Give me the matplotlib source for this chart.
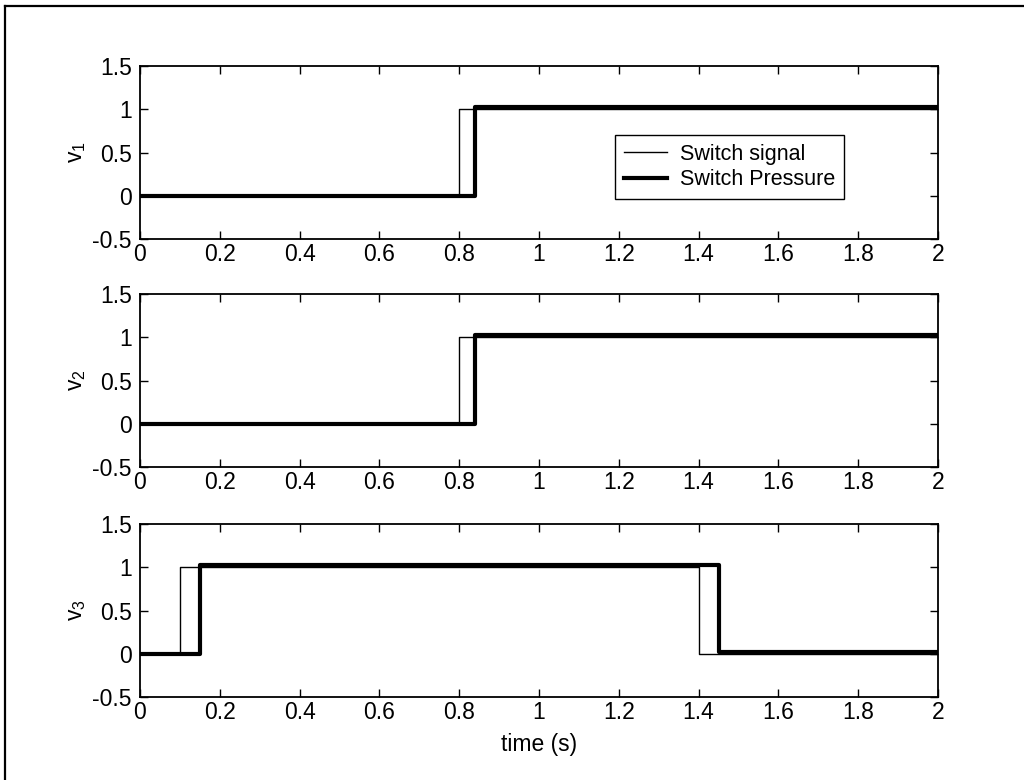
import numpy as np
import matplotlib
matplotlib.use("Agg")
import matplotlib.pyplot as plt
from matplotlib.lines import Line2D

plt.rcParams['font.family'] = ['Liberation Sans', 'DejaVu Sans']

# switching instants (s) for the three valves: command signal and measured pressure
t_end = 2.0
signal_on = [0.80, 0.80, 0.10]
signal_off = [None, None, 1.40]
pressure_on = [0.84, 0.84, 0.15]
pressure_off = [None, None, 1.45]
pressure_high = 1.03
pressure_low = 0.02
y_names = ['v$\\mathregular{_1}$', 'v$\\mathregular{_2}$', 'v$\\mathregular{_3}$']


def step_trace(t_on, t_off, high, low_after):
    t = [0.0, t_on, t_on]
    y = [0.0, 0.0, high]
    if t_off is None:
        t.append(t_end)
        y.append(high)
    else:
        t += [t_off, t_off, t_end]
        y += [high, low_after, low_after]
    return np.array(t), np.array(y)


fig = plt.figure(figsize=(10.24, 7.8), dpi=100)

# border along the top and left of the page
bx, by = 5 / 1024, 1 - 6 / 780
fig.add_artist(Line2D([bx, 1.0], [by, by], transform=fig.transFigure,
                      color='black', linewidth=1.6))
fig.add_artist(Line2D([bx, bx], [0.0, by], transform=fig.transFigure,
                      color='black', linewidth=1.6))

left, width, height = 140 / 1024, 798 / 1024, 173 / 780
bottoms = [1 - 239 / 780, 1 - 467 / 780, 1 - 697 / 780]

for i in range(3):
    ax = fig.add_axes([left, bottoms[i], width, height])
    ts, ys = step_trace(signal_on[i], signal_off[i], 1.0, 0.0)
    tp, yp = step_trace(pressure_on[i], pressure_off[i], pressure_high, pressure_low)
    ax.plot(ts, ys, color='black', linewidth=1.0, label='Switch signal')
    ax.plot(tp, yp, color='black', linewidth=3.0, label='Switch Pressure')

    ax.set_xlim(0, 2)
    ax.set_ylim(-0.5, 1.5)
    ax.set_xticks(np.arange(0, 2.01, 0.2))
    ax.set_xticklabels(['0', '0.2', '0.4', '0.6', '0.8', '1', '1.2', '1.4', '1.6', '1.8', '2'])
    ax.set_yticks([-0.5, 0, 0.5, 1, 1.5])
    ax.set_yticklabels(['-0.5', '0', '0.5', '1', '1.5'])
    ax.tick_params(direction='in', top=True, right=True, length=6, width=1,
                   labelsize=16.5, pad=3)
    ax.tick_params(axis='y', pad=6)
    for s in ax.spines.values():
        s.set_linewidth(1.3)
    ax.set_ylabel(y_names[i], fontsize=16.5, labelpad=3)

    if i == 0:
        ax.legend(loc='center', bbox_to_anchor=(0.739, 0.416), fontsize=15.5,
                  frameon=True, fancybox=False, edgecolor='black', framealpha=1,
                  handlelength=2.0, handletextpad=0.6, borderpad=0.4,
                  labelspacing=0.2)
    if i == 2:
        ax.set_xlabel('time (s)', fontsize=16.5, labelpad=6)

fig.savefig('out.png', dpi=100)
